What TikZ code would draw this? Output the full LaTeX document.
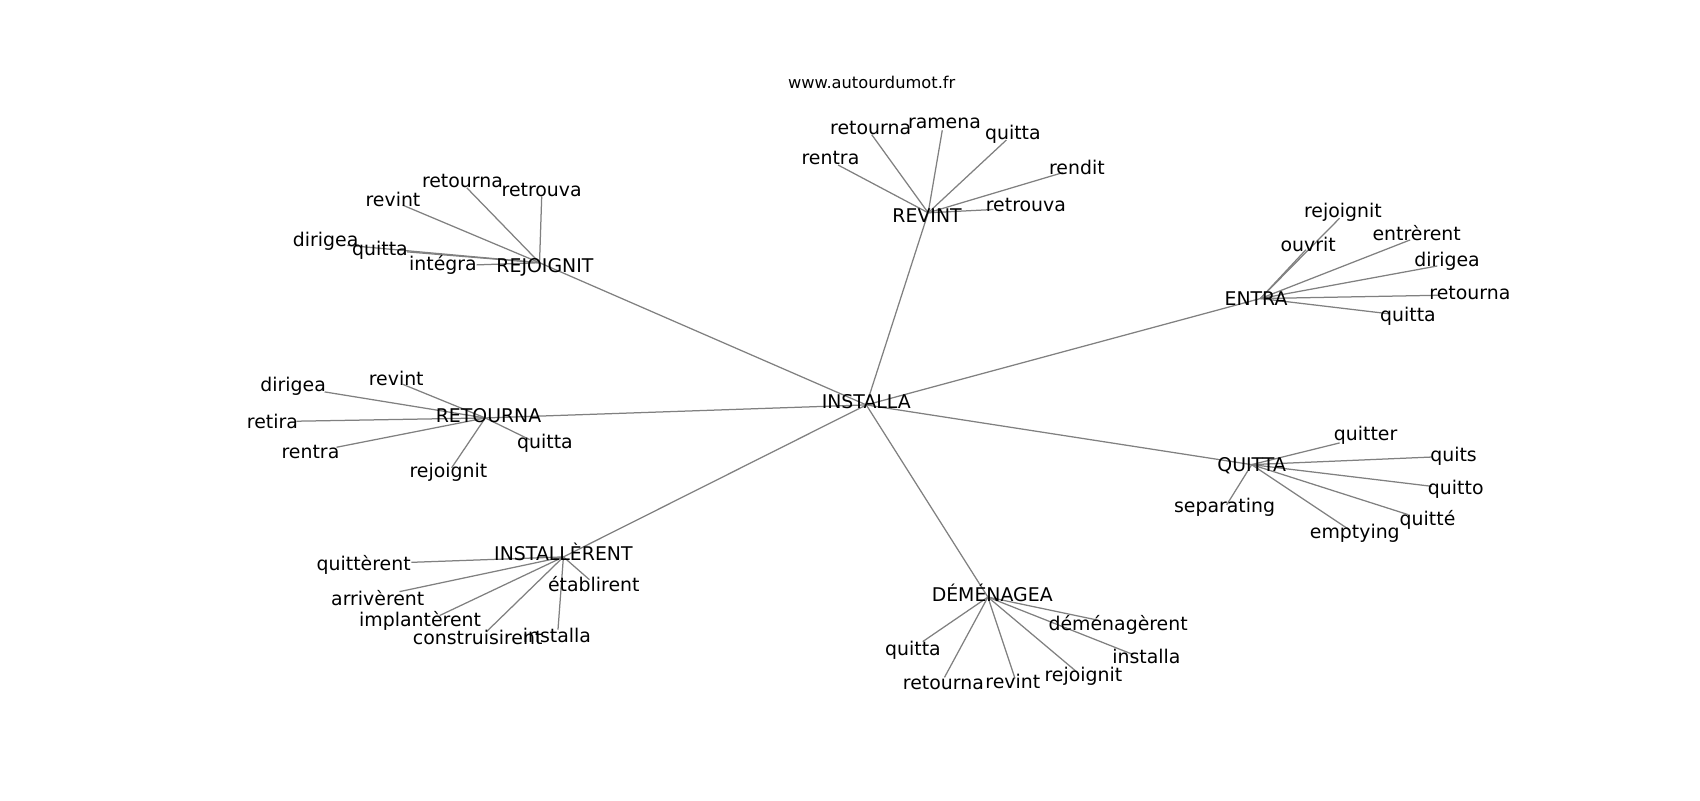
\documentclass[tikz,border=0pt]{standalone}
\usepackage{fontspec}
\setmainfont{DejaVu Sans}
\usepackage{tikz}
\usetikzlibrary{backgrounds}
\definecolor{linkgray}{RGB}{128,128,128}

% fan of leaf words round one hub: #1 hub name, #2 key/px/py/text/lx/ly list
\newcommand\wordfan[2]{%
  \foreach \k/\px/\py/\txt/\lx/\ly in {#2}
  {
    \coordinate (#1-\k) at (\px,\py);
    \node [word] (#1-\k-lbl) at (\lx,\ly) {\txt};
    \begin{pgfonlayer}{background}
      \draw [link] (#1) -- (#1-\k);
    \end{pgfonlayer}
  }%
}

\begin{document}
\begin{tikzpicture}[x=0.7816pt,y=-0.7816pt,
  word/.style={font=\fontsize{13.6}{16}\selectfont,inner sep=0pt},
  link/.style={draw=linkgray,line width=0.9pt}]
\useasboundingbox (0,0) rectangle (1566,737);

\node [font=\fontsize{11.7}{14}\selectfont,inner sep=0pt] (site) at (803,76) {www.autourdumot.fr};

% centre and hubs
\coordinate (installa) at (798,373);
\coordinate (rejoignit) at (497,242);
\coordinate (revint) at (855,196);
\coordinate (entra) at (1161,275);
\coordinate (retourna) at (447,385);
\coordinate (quitta) at (1153,428);
\coordinate (installerent) at (519,513);
\coordinate (demenagea) at (910,550);

\begin{pgfonlayer}{background}
  \foreach \h in {rejoignit,revint,entra,retourna,quitta,installerent,demenagea}
    \draw [link] (installa) -- (\h);
\end{pgfonlayer}

\node [word] (installa-lbl) at (798,370) {INSTALLA};
\node [word] (rejoignit-lbl) at (502,246) {REJOIGNIT};
\node [word] (revint-lbl) at (854,199) {REVINT};
\node [word] (entra-lbl) at (1157,275) {ENTRA};
\node [word] (retourna-lbl) at (450,383) {RETOURNA};
\node [word] (quitta-lbl) at (1153,429) {QUITTA};
\node [word] (installerent-lbl) at (519,508) {INSTALLÈRENT};
\node [word] (demenagea-lbl) at (914,546) {DÉMÉNAGEA};

\wordfan{rejoignit}{
  retourna/430/173/retourna/426/167,
  retrouva/499/181/retrouva/499/175,
  revint/371/189/revint/362/184,
  dirigea/320/226/dirigea/300/222,
  quitta/375/232/quitta/350/231,
  integra/439/244/intégra/408/244}

\wordfan{revint}{
  retourna/803/124/retourna/802/118,
  ramena/868/120/ramena/870/114,
  quitta/927/129/quitta/933/124,
  rentra/772/152/rentra/765/146,
  rendit/979/159/rendit/992/154,
  retrouva/915/193/retrouva/945/189}

\wordfan{entra}{
  rejoignit/1234/201/rejoignit/1237/196,
  ouvrit/1203/230/ouvrit/1205/225,
  entrerent/1299/221/entrèrent/1305/215,
  dirigea/1324/245/dirigea/1333/241,
  retourna/1325/272/retourna/1354/270,
  quitta/1279/289/quitta/1297/291}

\wordfan{retourna}{
  dirigea/299/361/dirigea/270/356,
  revint/371/354/revint/365/349,
  retira/273/388/retira/251/388,
  rentra/310/412/rentra/286/416,
  quitta/488/405/quitta/502/408,
  rejoignit/416/431/rejoignit/413/435}

\wordfan{quitta}{
  quitter/1234/408/quitter/1258/401,
  quits/1319/421/quits/1339/420,
  quitto/1319/448/quitto/1341/451,
  quitte/1297/474/quitté/1315/479,
  emptying/1243/488/emptying/1248/491,
  separating/1130/465/separating/1128/467}

\wordfan{installerent}{
  quitterent/379/518/quittèrent/335/520,
  etablirent/543/534/établirent/547/538,
  arriverent/368/545/arrivèrent/348/551,
  implanterent/405/567/implantèrent/387/572,
  construisirent/448/582/construisirent/440/587,
  installa/514/580/installa/513/585}

\wordfan{demenagea}{
  demenagerent/1010/571/déménagèrent/1030/576,
  installa/1044/603/installa/1056/605,
  quitta/850/591/quitta/841/599,
  retourna/870/624/retourna/869/629,
  revint/935/625/revint/933/628,
  rejoignit/992/619/rejoignit/998/623}
\end{tikzpicture}
\end{document}
